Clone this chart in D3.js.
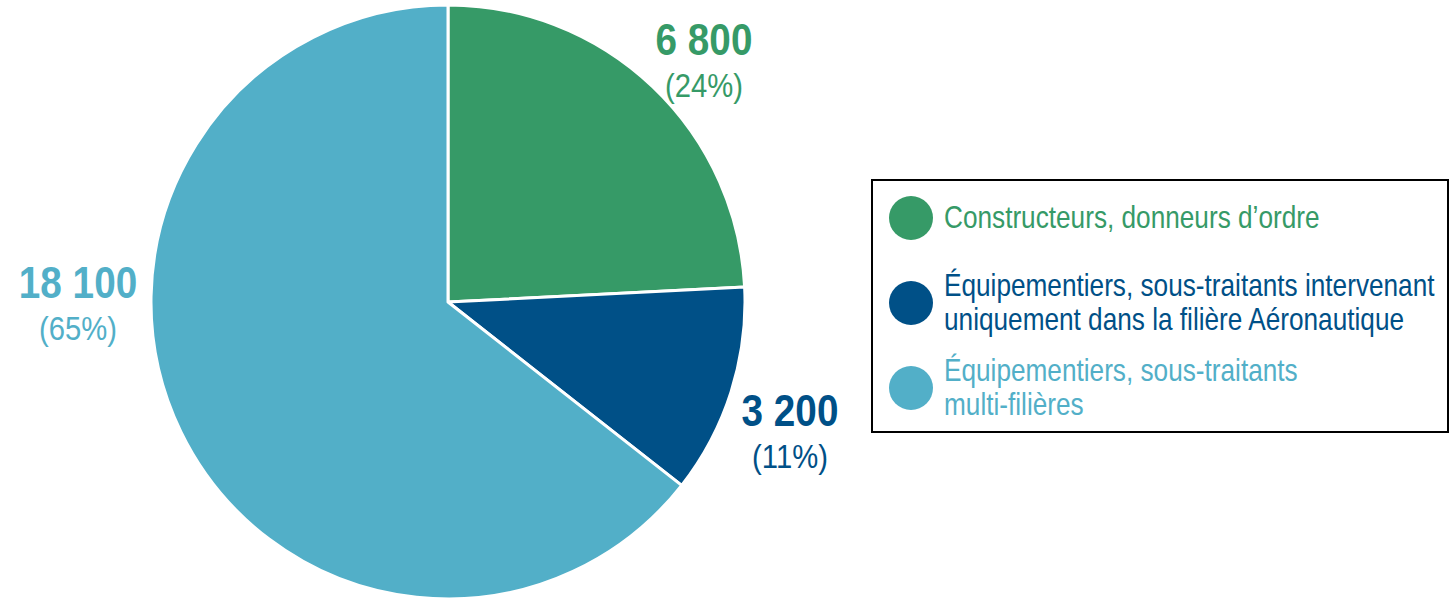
<!DOCTYPE html>
<html>
<head>
<meta charset="utf-8">
<script src="https://cdn.jsdelivr.net/npm/d3@7"></script>
<style>
  body { margin: 0; background: #fff; }
  svg { display: block; font-family: "Liberation Sans", Arial, sans-serif; }
</style>
</head>
<body>
<svg id="pie-svg" width="1451" height="599"></svg>
<script>
// data
const categories = [
  'Constructeurs, donneurs d’ordre',
  'Équipementiers, sous-traitants intervenant uniquement dans la filière Aéronautique',
  'Équipementiers, sous-traitants multi-filières'
];
const values = [6800, 3200, 18100];
const valueLabels = ['6 800', '3 200', '18 100'];
const pctLabels = ['(24%)', '(11%)', '(65%)'];
const legendLines = [
  ['Constructeurs, donneurs d’ordre'],
  ['Équipementiers, sous-traitants intervenant', 'uniquement dans la filière Aéronautique'],
  ['Équipementiers, sous-traitants', 'multi-filières']
];
const colors = ['#369a67', '#005087', '#52afc8'];

const data = categories.map((c, i) => ({ name: c, value: values[i], label: valueLabels[i], pct: pctLabels[i], color: colors[i] }));

const svg = d3.select('#pie-svg');
const cx = 448, cy = 302, radius = 297;
const narrow = 0.86; // no narrow font installed, squeeze the text instead

const pie = d3.pie().value(d => d.value).sort(null);
const arc = d3.arc().innerRadius(0).outerRadius(radius);
const arcs = pie(data);

const g = svg.append('g').attr('transform', `translate(${cx},${cy})`);

g.selectAll('path')
  .data(arcs)
  .enter().append('path')
  .attr('d', arc)
  .attr('fill', d => d.data.color)
  .attr('stroke', '#fff')
  .attr('stroke-width', 3)
  .attr('stroke-linejoin', 'round');

// label positions relative to center (tuned by eye)
const labelPos = [[256, -247], [342, 124], [-370, -4]];

const lab = g.selectAll('.lab')
  .data(arcs)
  .enter().append('g')
  .attr('class', 'lab')
  .attr('transform', (d, i) => `translate(${labelPos[i][0]},${labelPos[i][1]}) scale(${narrow},1)`)
  .attr('fill', d => d.data.color)
  .attr('text-anchor', 'middle');

lab.append('text')
  .attr('y', 0)
  .style('font-size', '45px')
  .style('font-weight', 'bold')
  .text(d => d.data.label);

lab.append('text')
  .attr('y', 42)
  .style('font-size', '34px')
  .text(d => d.data.pct);

// legend
const legend = svg.append('g').attr('transform', 'translate(872,180)');
legend.append('rect')
  .attr('width', 576)
  .attr('height', 252)
  .attr('fill', '#fff')
  .attr('stroke', '#000')
  .attr('stroke-width', 2);

const rowY = [38, 123, 208];
const items = legend.selectAll('.item')
  .data(data)
  .enter().append('g')
  .attr('class', 'item')
  .attr('transform', (d, i) => `translate(0,${rowY[i]})`);

items.append('circle')
  .attr('cx', 39)
  .attr('cy', 0)
  .attr('r', 22)
  .attr('fill', d => d.color);

items.append('g')
  .attr('transform', 'translate(72,0) scale(0.845,1)')
  .append('text')
  .attr('fill', d => d.color)
  .style('font-size', '31px')
  .selectAll('tspan')
  .data((d, i) => legendLines[i].map((t, j, arr) => ({ t, j, n: arr.length })))
  .enter().append('tspan')
  .attr('x', 0)
  .attr('y', d => (d.j - (d.n - 1) / 2) * 34 + 10)
  .text(d => d.t);
</script>
</body>
</html>
